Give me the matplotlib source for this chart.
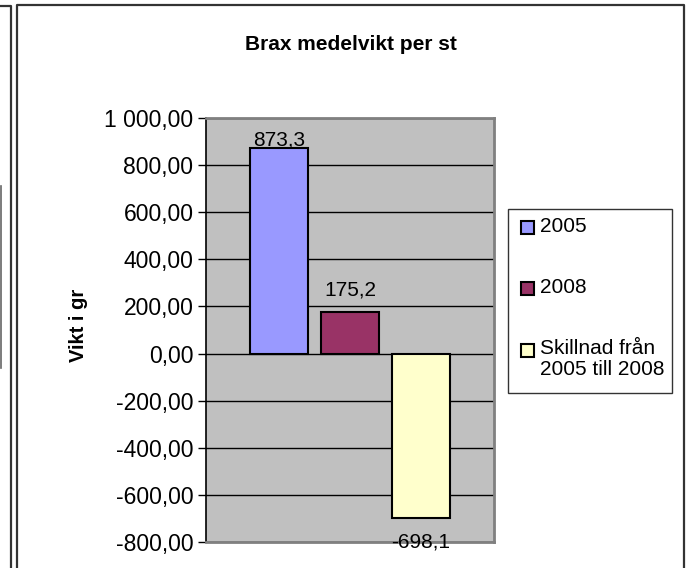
import matplotlib
matplotlib.use("Agg")
import matplotlib.pyplot as plt
from matplotlib.patches import Rectangle
from matplotlib.lines import Line2D
from matplotlib.ticker import FuncFormatter, MultipleLocator
import numpy as np

plt.rcParams['font.family'] = ['Liberation Sans', 'DejaVu Sans']

# data
SERIES = ['2005', '2008', 'Skillnad från\n2005 till 2008']
VALUES = [873.3, 175.2, -698.1]
VALUE_LABELS = ['873,3', '175,2', '-698,1']
COLORS = ['#9999FF', '#993366', '#FFFFCC']
TITLE = 'Brax medelvikt per st'
YLABEL = 'Vikt i gr'
YMIN, YMAX, YSTEP = -800, 1000, 200

# label offsets in points (excel puts them a bit differently per bar)
LABEL_OFFSETS = [6, 16, -17]

W, H = 688, 568
SIZE_TICK = 16.5
SIZE_TEXT = 15
SIZE_TITLE = 15
SIZE_YLABEL = 14.5


def px(x, y):
    # pixel -> figure fraction
    return x / W, 1 - y / H


def fmt_sv(v, pos=None):
    s = f"{abs(v):,.2f}".replace(",", " ").replace(".", ",")
    return ("-" if v < 0 else "") + s


fig = plt.figure(figsize=(W / 100, H / 100), dpi=100)

# frames of the chart (and the neighbouring one cut at the left edge)
fig.add_artist(Line2D([17 / W, 17 / W, 684 / W, 684 / W], [0, 1 - 5 / H, 1 - 5 / H, 0],
                      color='#333333', lw=1.6, transform=fig.transFigure))
fig.add_artist(Line2D([0, 11 / W, 11 / W], [1 - 6 / H, 1 - 6 / H, 0],
                      color='#333333', lw=1.6, transform=fig.transFigure))
fig.add_artist(Line2D([0.5 / W, 0.5 / W], [1 - 186 / H, 1 - 368 / H],
                      color='#666666', lw=1.2, transform=fig.transFigure))

l, t = px(206, 118)
r, b = px(494, 542)
ax = fig.add_axes([l, b, r - l, t - b])
ax.set_facecolor('#C0C0C0')

n = len(VALUES)
xpos = (np.arange(n) - (n - 1) / 2) * 0.245
bars = ax.bar(xpos, VALUES, width=0.2014, color=COLORS, edgecolor='black', linewidth=1.5, zorder=3)

for bar, v, txt, off in zip(bars, VALUES, VALUE_LABELS, LABEL_OFFSETS):
    ax.annotate(txt, (bar.get_x() + bar.get_width() / 2, v), xytext=(0, off),
                textcoords='offset points', ha='center', va='center',
                fontsize=SIZE_TEXT, zorder=4, annotation_clip=False)

ax.set_xlim(-0.5, 0.5)
ax.set_ylim(YMIN, YMAX)
ax.yaxis.set_major_locator(MultipleLocator(YSTEP))
ax.yaxis.set_major_formatter(FuncFormatter(fmt_sv))
ax.set_xticks([])
ax.grid(axis='y', color='black', lw=1, zorder=1)
ax.tick_params(axis='y', length=6, width=1, labelsize=SIZE_TICK, pad=3, color='black')
for side in ['top', 'right', 'bottom']:
    ax.spines[side].set_color('#808080')
    ax.spines[side].set_linewidth(2)
ax.spines['left'].set_color('black')
ax.spines['left'].set_linewidth(1.2)

x, y = px(351, 45)
fig.text(x, y, TITLE, ha='center', va='center', fontsize=SIZE_TITLE, fontweight='bold')
x, y = px(78, 325)
fig.text(x, y, YLABEL, ha='center', va='center', rotation=90, fontsize=SIZE_YLABEL, fontweight='bold')

# legend, drawn by hand so the marker sits on the first line of a wrapped label
x0, y0 = px(508, 393)
x1, y1 = px(672, 209)
fig.add_artist(Rectangle((x0, y0), x1 - x0, y1 - y0, transform=fig.transFigure,
                         facecolor='white', edgecolor='#333333', lw=1))
entry_y = [228, 289, 350]
for name, col, ey in zip(SERIES, COLORS, entry_y):
    sx, sy = px(521, ey + 6.5)
    fig.add_artist(Rectangle((sx, sy), 13 / W, 13 / H, transform=fig.transFigure,
                             facecolor=col, edgecolor='black', lw=1.5))
    tx, ty = px(540, ey - 11)
    fig.text(tx, ty, name, ha='left', va='top', fontsize=SIZE_TEXT, linespacing=1.15)

fig.savefig('out.png', dpi=100)
